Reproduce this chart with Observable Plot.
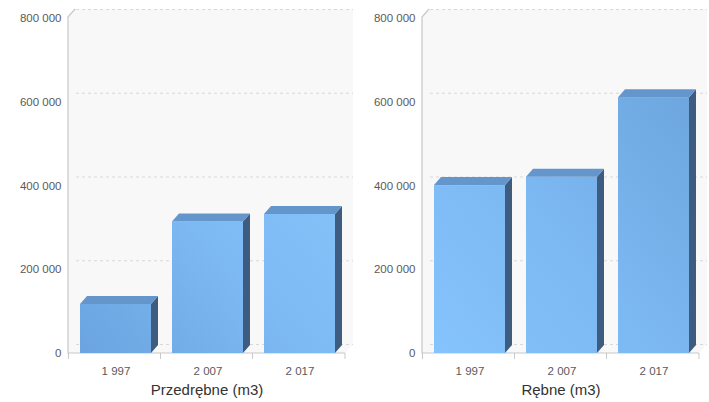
<!DOCTYPE html>
<html>
<head>
<meta charset="utf-8">
<script src="https://cdn.jsdelivr.net/npm/d3@7"></script>
<script src="https://cdn.jsdelivr.net/npm/@observablehq/plot@0.6"></script>
<style>
  body { margin: 0; background: #fff; }
  #wrap { display: flex; width: 709px; height: 402px; }
</style>
</head>
<body>
<div id="wrap"></div>
<script>
const years = [1997, 2007, 2017];
const przedrebne = [117000, 314000, 332000];
const rebne = [401000, 421000, 611000];
const yTicks = [0, 200000, 400000, 600000, 800000];
const titles = ["Przedrębne (m3)", "Rębne (m3)"];

const fmt = v => d3.format(",")(v).replace(/,/g, " ");
const DX = 7, DY = 8;

function chart(values, title, width, gradId, stops) {
  const data = years.map((year, i) => ({year, value: values[i]}));
  const defs = (index, scales, vals, dim) => {
    const g = d3.create("svg:g");
    const L = dim.marginLeft, R = dim.width - dim.marginRight;
    const lg = g.append("defs").append("linearGradient")
      .attr("id", gradId).attr("gradientUnits", "userSpaceOnUse")
      .attr("x1", L).attr("y1", dim.height - dim.marginBottom)
      .attr("x2", R).attr("y2", dim.marginTop + 100);
    stops.forEach((c, i) => lg.append("stop").attr("offset", i / (stops.length - 1)).attr("stop-color", c));
    return g.node();
  };
  const bg = (index, scales, vals, dim) => {
    const L = dim.marginLeft, R = dim.width - dim.marginRight;
    const T = dim.marginTop, B = dim.height - dim.marginBottom;
    const g = d3.create("svg:g");
    g.append("path")
      .attr("d", `M${L},${T}L${L + DX},${T - DY - 1}L${R + DX + 1},${T - DY - 1}L${R + DX + 1},${B - DY - 1}L${R},${B}L${L},${B}Z`)
      .attr("fill", "#f8f8f8");
    return g.node();
  };
  const axes = (index, scales, vals, dim) => {
    const {x} = scales;
    const L = dim.marginLeft, R = dim.width - dim.marginRight;
    const T = dim.marginTop, B = dim.height - dim.marginBottom;
    const g = d3.create("svg:g").attr("stroke", "#c8c8c8").attr("fill", "none");
    g.append("path").attr("d", `M${L + DX},${T - DY - 1}L${L},${T - 1}L${L},${B}L${R},${B}`).attr("stroke-width", 1.2);
    const gap = (x.step() - x.bandwidth()) / 2;
    const bounds = years.map(yv => x(yv) - gap).concat([R]);
    bounds.forEach(bx => g.append("line").attr("x1", bx).attr("x2", bx).attr("y1", B).attr("y2", B + 6));
    return g.node();
  };
  const faces = (index, scales, vals, dim) => {
    const {x, y} = scales;
    const g = d3.create("svg:g");
    const bw = x.bandwidth();
    data.forEach(d => {
      const x0 = x(d.year) + 1, x1 = x0 + bw, y0 = y(0), y1 = y(d.value);
      g.append("path")
        .attr("d", `M${x1},${y1}L${x1 + DX},${y1 - DY}L${x1 + DX},${y0 - DY}L${x1},${y0}Z`)
        .attr("fill", "#3d5c80");
      g.append("path")
        .attr("d", `M${x0},${y1}L${x0 + DX},${y1 - DY}L${x1 + DX},${y1 - DY}L${x1},${y1}Z`)
        .attr("fill", "#6496cc");
    });
    return g.node();
  };
  return Plot.plot({
    width,
    height: 402,
    marginLeft: 68,
    marginRight: width - 345,
    marginTop: 18,
    marginBottom: 49,
    style: {fontFamily: "'Liberation Sans', Arial, sans-serif", fontSize: "11.5px", color: "#555", background: "#fff"},
    x: {domain: years, paddingInner: 0.23, paddingOuter: 0.115, label: null},
    y: {domain: [0, 800000], label: null},
    marks: [
      defs,
      bg,
      Plot.ruleY(yTicks, {y: d => d, dx: DX + 1, dy: -DY - 1, stroke: "#d8d8d8", strokeDasharray: "3,3"}),
      axes,
      Plot.barY(data, {x: "year", y: "value", fill: `url(#${gradId})`, dx: 1}),
      faces,
      Plot.axisY({ticks: yTicks, tickSize: 0, tickPadding: 7, tickFormat: fmt, fill: "#5a5a5a"}),
      Plot.axisX({tickSize: 0, tickPadding: 13, tickFormat: fmt, fill: "#5a5a5a", dx: 1}),
      Plot.text([title], {frameAnchor: "bottom", dy: 41, text: d => d, fontSize: 15, fill: "#333"})
    ]
  });
}

const wrap = document.getElementById("wrap");
wrap.append(chart(przedrebne, titles[0], 354, "gL", ["#6aa3df", "#7db9f3", "#88c6fd"]));
wrap.append(chart(rebne, titles[1], 355, "gR", ["#86c4fd", "#7cb8f2", "#6ea7e0"]));
</script>
</body>
</html>
